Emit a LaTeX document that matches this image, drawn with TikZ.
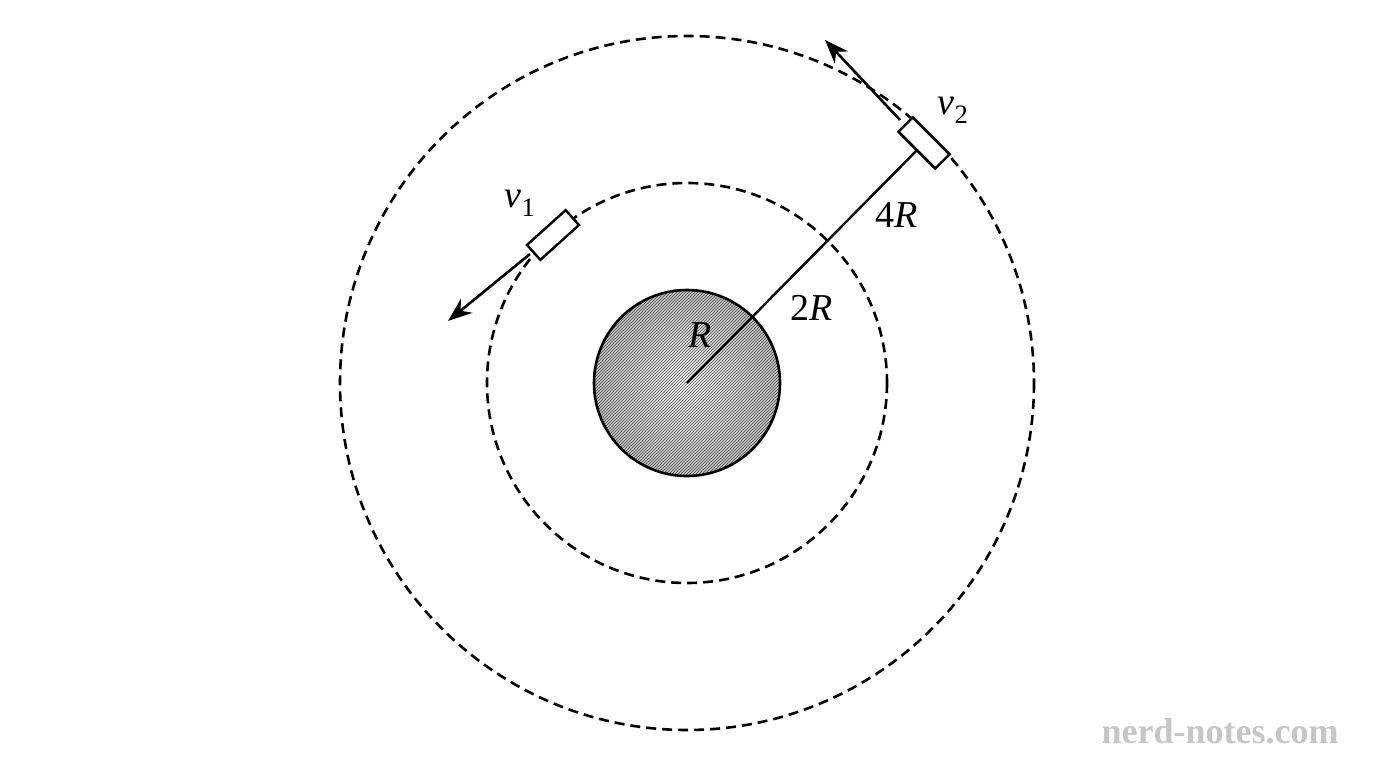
\documentclass[tikz,border=0pt]{standalone}
\usepackage{fontspec}
\setmainfont{Liberation Serif}
\usetikzlibrary{arrows.meta,patterns}
\begin{document}
\begin{tikzpicture}[x=1pt,y=-1pt,
  orbit/.style={dashed,dash pattern=on 10pt off 6pt,line width=2.6pt},
  sat/.style={draw,fill=white,line width=2.4pt,minimum width=52pt,minimum height=20pt,inner sep=0pt},
  vel/.style={line width=2.6pt,-{Stealth[length=24pt,width=18pt]}},
  lbl/.style={font=\fontsize{38}{44}\selectfont\itshape}]
\useasboundingbox (0,0) rectangle (1376,768);
\coordinate (O) at (687,383);
\draw[orbit] (O) circle (200);
\draw[orbit] (O) circle (347);
\shade[inner color=gray!5,outer color=gray!50] (O) circle (93);
\fill[pattern=north east lines,pattern color=gray!60!black] (O) circle (93);
\draw[line width=2.6pt] (O) circle (93);
\node[sat,rotate=-45] (s2) at (924,143) {};
\draw[line width=2.4pt] (O) -- (s2.center);
\node[sat,rotate=-45] at (924,143) {};
\node[sat,rotate=42] (s1) at (553,235) {};
\coordinate (a2) at (825,40);
\coordinate (a1) at (448,321);
\coordinate (t2) at (900,120);
\coordinate (t1) at (530,254);
\draw[vel] (t2) -- (a2);
\draw[vel] (t1) -- (a1);
\node[lbl] (v2) at (953,110) {v\textsubscript{\upshape 2}};
\node[lbl] (v1) at (520,203) {v\textsubscript{\upshape 1}};
\node[lbl] (l4) at (897,215) {\upshape 4\itshape R};
\node[lbl] (l2) at (812,308) {\upshape 2\itshape R};
\node[lbl] (l1) at (700,335) {R};
\node[font=\fontsize{36}{42}\selectfont\bfseries,text=gray!45] (wm) at (1220,731) {nerd-notes.com};
\end{tikzpicture}
\end{document}
